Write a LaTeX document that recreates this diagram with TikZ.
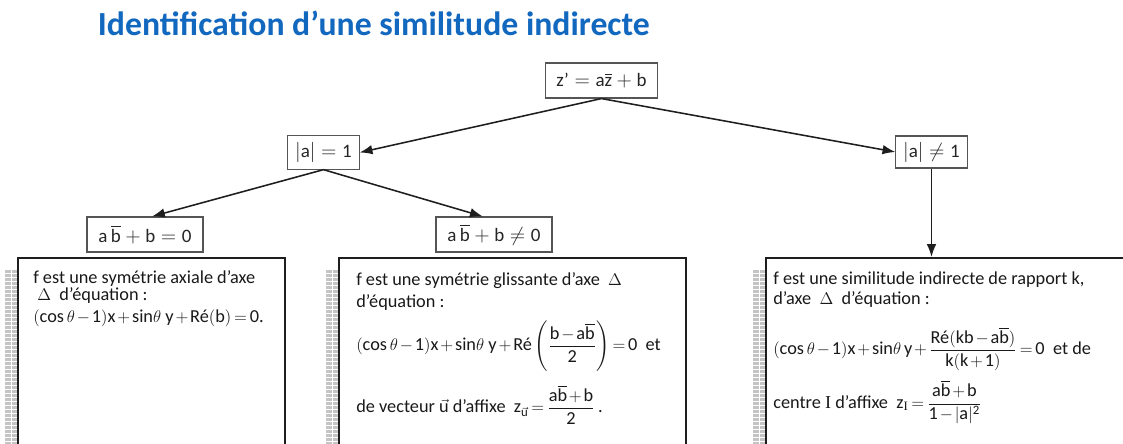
\documentclass[tikz,border=0pt]{standalone}
\usepackage{amsmath}
\usepackage{fontspec}
\setmainfont{Carlito}
\newfontfamily\serifI{Liberation Serif}
\usetikzlibrary{arrows.meta,positioning,calc}
\definecolor{titleBlue}{RGB}{18,104,190}
\definecolor{lineColor}{RGB}{30,30,30}
\definecolor{boxLine}{RGB}{85,85,85}
\definecolor{stripGray}{RGB}{196,196,196}
\newcommand{\tx}[1]{\textnormal{#1}}
\newcommand{\bb}{\overline{\tx{b}}}
\newcommand{\tight}{\medmuskip=2mu\thickmuskip=3mu\lineskiplimit=-\maxdimen}

\begin{document}
\begin{tikzpicture}[
  x=0.025cm, y=-0.025cm,
  title/.style={font=\bfseries\fontsize{24}{28}\selectfont, text=titleBlue, anchor=base west},
  cond/.style={draw=boxLine, line width=0.8pt, fill=white, inner sep=0pt, font=\fontsize{13.5}{16}\selectfont, text=black!85},
  panel/.style={draw=lineColor, line width=1.4pt, fill=white, anchor=north west, minimum height=6cm},
  body/.style={anchor=north west, inner sep=0pt, align=left, text=black!90},
  strip/.style={fill=stripGray, draw=none},
  arrow/.style={-{Latex[length=3.2mm, width=2.4mm]}, line width=1.1pt, draw=lineColor}
]
\useasboundingbox (0,0) rectangle (1123,444);

% ------------------------------------------------------------------
% Title
% ------------------------------------------------------------------
\node[title] (ttl) at (93,36) {Identification d’une similitude indirecte};

% ------------------------------------------------------------------
% Tree of conditions
% ------------------------------------------------------------------
\node[cond, minimum width=2.78cm, minimum height=0.875cm] (eq) at (601.5,80.5)
  {$\tx{z'}=\tx{a}\overline{\tx{z}}+\tx{b}$};
\node[cond, minimum width=1.78cm, minimum height=0.83cm] (mod1) at (323.5,152.5)
  {$|\tx{a}|=\tx{1}$};
\node[cond, minimum width=1.78cm, minimum height=0.8cm] (modn) at (931.5,152)
  {$|\tx{a}|\neq\tx{1}$};
\node[cond, minimum width=2.9cm, minimum height=0.875cm] (cas0) at (145,234.5)
  {$\tx{a}\,\bb+\tx{b}=\tx{0}$};
\node[cond, minimum width=2.9cm, minimum height=0.875cm] (cas1) at (494,234.5)
  {$\tx{a}\,\bb+\tx{b}\neq\tx{0}$};

% ------------------------------------------------------------------
% Grey strips and result panels
% ------------------------------------------------------------------
\foreach \sx in {5,326,753} {
  \fill[strip] (\sx,269) rectangle ++(12,180);
  \foreach \k in {0,...,44}
    \draw[white, line width=0.3pt] (\sx,269+4*\k) -- ++(12,0);
  \draw[white, line width=0.3pt] (\sx+6,269) -- ++(0,180);
}

\node[panel, minimum width=6.675cm] (pa) at (17,257) {};
\node[panel, minimum width=8.675cm] (pb) at (338,257) {};
\node[panel, minimum width=9.5cm] (pc) at (765,257) {};

\node[body, font=\fontsize{13}{12.6}\selectfont\tight] (ta) at ($(pa.north west)+(16,13)$)
{f est une symétrie axiale d’axe\\
\ $\Delta$\ \ d’équation :\\[3pt]
$(\tx{cos}\,\theta-\tx{1})\tx{x}+\tx{sin}\theta\ \tx{y}+\tx{Ré}(\tx{b})=\tx{0.}$};

\node[body, font=\fontsize{13}{15.6}\selectfont\tight] (tb) at ($(pb.north west)+(18,15)$)
{f est une symétrie glissante d’axe\ \ $\Delta$\\
d’équation :\\[15.5pt]
$(\tx{cos}\,\theta-\tx{1})\tx{x}+\tx{sin}\theta\ \tx{y}+\tx{Ré}\left(\dfrac{\tx{b}-\tx{a}\bb}{\tx{2}}\right)=\tx{0}$\ \ et\\[28.5pt]
de vecteur $\vec{\tx{u}}$ d’affixe\ \ $\tx{z}_{\vec{\tx{u}}}=\dfrac{\tx{a}\bb+\tx{b}}{\tx{2}}$\,.};

\node[body, font=\fontsize{13}{14.2}\selectfont\tight] (tc) at ($(pc.north west)+(8,15)$)
{f est une similitude indirecte de rapport k,\\
d’axe\ \ $\Delta$\ \ d’équation :\\[21pt]
$(\tx{cos}\,\theta-\tx{1})\tx{x}+\tx{sin}\theta\,\tx{y}+\dfrac{\tx{Ré}(\tx{kb}-\tx{a}\bb)}{\tx{k}(\tx{k}+\tx{1})}=\tx{0}$\ \ et de\\[24pt]
centre {\serifI I} d’affixe\ \ $\tx{z}_{\tx{\serifI I}}=\dfrac{\tx{a}\bb+\tx{b}}{\tx{1}-|\tx{a}|^{\tx{2}}}$};

% ------------------------------------------------------------------
% Connectors
% ------------------------------------------------------------------
\draw[arrow] (eq.south) -- (mod1.east);
\draw[arrow] (eq.south) -- (modn.west);
\draw[arrow] (mod1.south) -- ([xshift=5pt]cas0.north);
\draw[arrow] (mod1.south) -- ([xshift=-8pt]cas1.north);
\draw[arrow] (modn.south) -- (modn.south |- pc.north);

\end{tikzpicture}
\end{document}
